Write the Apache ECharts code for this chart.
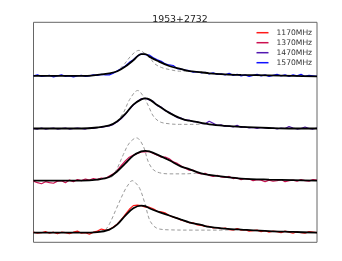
<!DOCTYPE html>
<html><head><meta charset="utf-8">
<script src="https://cdn.jsdelivr.net/npm/echarts@6/dist/echarts.min.js"></script>
<style>html,body{margin:0;padding:0;background:#fff}#c{width:342px;height:261px}</style>
</head><body><div id="c"></div>
<script>
const chartTitle = '1953+2732';
const bands = ['1170MHz', '1370MHz', '1470MHz', '1570MHz'];
const bandColors = ['#ff1a1a', '#cc1050', '#5218b0', '#1010ff'];
const offsets = [0, 1, 2, 3];

// observed profiles (one value per phase bin, relative to each baseline)
const obs1170 = [0.01,-0.01,0.00,0.02,-0.01,0.01,-0.02,0.01,0.00,-0.02,0.01,0.03,-0.01,0.00,-0.03,0.01,0.03,0.07,0.05,0.06,0.11,0.17,0.25,0.35,0.45,0.52,0.53,0.52,0.49,0.49,0.46,0.41,0.40,0.38,0.33,0.30,0.28,0.24,0.22,0.19,0.19,0.15,0.14,0.12,0.12,0.09,0.10,0.08,0.09,0.06,0.05,0.08,0.05,0.06,0.03,0.04,0.05,0.02,0.04,0.01,0.03,0.02,0.00,0.03,0.01,-0.01,0.02,0.00,-0.01,0.02,0.01,0.00];
const obs1370 = [-0.01,-0.04,-0.06,-0.02,-0.04,-0.05,-0.01,0.00,-0.04,0.01,-0.02,0.02,0.00,0.03,0.01,0.04,0.02,0.05,0.04,0.09,0.13,0.20,0.29,0.38,0.45,0.49,0.52,0.55,0.55,0.56,0.52,0.49,0.45,0.45,0.42,0.36,0.33,0.28,0.24,0.20,0.20,0.15,0.13,0.14,0.10,0.08,0.10,0.07,0.06,0.08,0.04,0.05,0.02,0.04,0.03,0.00,0.02,0.01,-0.02,0.01,-0.01,0.00,0.02,-0.02,0.00,0.01,-0.01,0.02,0.00,-0.01,0.02,0.01];
const obs1470 = [0.00,-0.01,0.01,-0.01,0.00,0.01,-0.01,0.00,0.01,-0.01,0.00,0.01,0.00,-0.01,0.01,0.00,0.02,0.02,0.04,0.05,0.08,0.13,0.19,0.27,0.37,0.45,0.52,0.57,0.58,0.55,0.52,0.44,0.41,0.34,0.31,0.26,0.21,0.20,0.16,0.16,0.13,0.13,0.10,0.09,0.14,0.10,0.06,0.07,0.04,0.05,0.03,0.06,0.02,0.03,0.01,0.02,0.00,0.02,0.01,0.00,0.01,-0.01,0.01,0.00,0.04,0.01,-0.01,0.00,0.03,0.00,-0.01,0.01];
const obs1570 = [0.01,0.03,0.00,0.01,0.02,-0.01,0.01,0.03,0.00,0.01,-0.01,0.01,0.02,0.00,0.01,0.03,0.02,0.04,0.03,0.03,0.06,0.11,0.15,0.20,0.27,0.32,0.39,0.43,0.42,0.41,0.36,0.32,0.29,0.24,0.22,0.21,0.15,0.14,0.12,0.11,0.08,0.09,0.07,0.08,0.05,0.07,0.04,0.05,0.03,0.06,0.02,0.04,0.01,0.03,0.00,0.02,0.04,0.01,0.03,0.00,0.02,0.04,0.01,0.03,0.00,0.03,0.01,0.04,0.00,0.02,0.01,0.00];

// scattered-profile fits (black)
const fitX = [0,12,16,19,21,23,25,27,28,29,31,34,37,39,42,44,48,52,59,65,71];
const fit1170 = [0,0,0.01,0.06,0.16,0.33,0.47,0.52,0.51,0.47,0.41,0.33,0.25,0.20,0.15,0.11,0.08,0.06,0.03,0.015,0];
const fit1370 = [0,0,0.02,0.07,0.18,0.33,0.48,0.56,0.57,0.56,0.50,0.39,0.27,0.22,0.14,0.11,0.07,0.04,0.02,0.01,0];
const fit1470 = [0,0,0.02,0.06,0.14,0.28,0.46,0.56,0.58,0.56,0.45,0.30,0.19,0.15,0.11,0.08,0.05,0.03,0.01,0,0];
const fit1570 = [0.01,0.01,0.03,0.06,0.10,0.19,0.31,0.43,0.43,0.38,0.30,0.20,0.14,0.10,0.08,0.06,0.04,0.03,0.02,0.01,0];

// intrinsic (unscattered) profiles (grey dashed)
const intrX1170 = [16.6,18,19.1,20.8,22.9,24.1,24.7,25.4,26.6,27.9,29.1,30.4,31.6,34,40,46,51.6];
const intr1170  = [0.02,0.06,0.18,0.47,0.82,0.96,1.0,0.97,0.85,0.56,0.24,0.11,0.07,0.055,0.05,0.05,0.06];
const intrX1370 = [19.5,20.8,22.5,24,25.8,27.5,28.7,30,31.6,34,38,41.5];
const intr1370  = [0.06,0.21,0.50,0.72,0.82,0.66,0.37,0.21,0.15,0.13,0.13,0.15];
const intrX1470 = [20.8,22.5,24.1,26.1,27.5,28.8,30,31.6,34.1,36.6,39.5,43.5];
const intr1470  = [0.13,0.30,0.56,0.73,0.62,0.43,0.24,0.13,0.09,0.08,0.08,0.09];
const intrX1570 = [21.7,22.9,24.6,26.4,27.9,29.2,30.4,32.1,34.2,36.6,39];
const intr1570  = [0.15,0.25,0.41,0.50,0.44,0.35,0.24,0.17,0.13,0.10,0.10];

const obs = [obs1170, obs1370, obs1470, obs1570];
const fits = [fit1170, fit1370, fit1470, fit1570];
const intrX = [intrX1170, intrX1370, intrX1470, intrX1570];
const intr = [intr1170, intr1370, intr1470, intr1570];

const series = [];
obs.forEach((arr, k) => {
  series.push({
    name: bands[k], type: 'line', showSymbol: false, symbol: 'none',
    data: arr.map((v, i) => [i, v + offsets[k]]),
    lineStyle: { color: bandColors[k], width: 1.2 }, itemStyle: { color: bandColors[k] },
    z: 2, animation: false
  });
});
intr.forEach((arr, k) => {
  series.push({
    type: 'line', symbol: 'none', smooth: 0.35,
    data: arr.map((v, i) => [intrX[k][i], v + offsets[k]]),
    lineStyle: { color: '#9a9a9a', width: 1, type: [3.5, 2.5] },
    z: 3, animation: false, silent: true
  });
});
fits.forEach((arr, k) => {
  series.push({
    type: 'line', symbol: 'none', smooth: 0.35,
    data: arr.map((v, i) => [fitX[i], v + offsets[k]]),
    lineStyle: { color: '#000', width: 1.8 },
    z: 4, animation: false, silent: true
  });
});

const chart = echarts.init(document.getElementById('c'), null, { renderer: 'canvas' });
chart.setOption({
  backgroundColor: '#fff',
  animation: false,
  title: {
    text: chartTitle, left: 175, top: 10.5, textAlign: 'center',
    textStyle: { fontFamily: 'DejaVu Sans', fontSize: 9.4, fontWeight: 'normal', color: '#222' }
  },
  grid: { left: 33.5, right: 25, top: 22.3, bottom: 18.7, show: true, borderColor: '#666', borderWidth: 1, backgroundColor: '#fff' },
  xAxis: { type: 'value', min: 0, max: 71, axisLine: { show: false }, axisTick: { show: false }, axisLabel: { show: false }, splitLine: { show: false } },
  yAxis: { type: 'value', min: -0.184, max: 4.039, axisLine: { show: false }, axisTick: { show: false }, axisLabel: { show: false }, splitLine: { show: false } },
  legend: {
    data: bands.map((b, k) => ({ name: b, icon: 'rect', itemStyle: { color: bandColors[k] } })),
    orient: 'vertical', left: 256.5, top: 27.7, itemWidth: 12, itemHeight: 1.5, itemGap: 0,
    padding: 0,
    textStyle: { fontFamily: 'DejaVu Sans', fontSize: 7.6, color: '#333', lineHeight: 10, padding: [0, 0, 0, 3] }
  },
  series: series
});
</script></body></html>
